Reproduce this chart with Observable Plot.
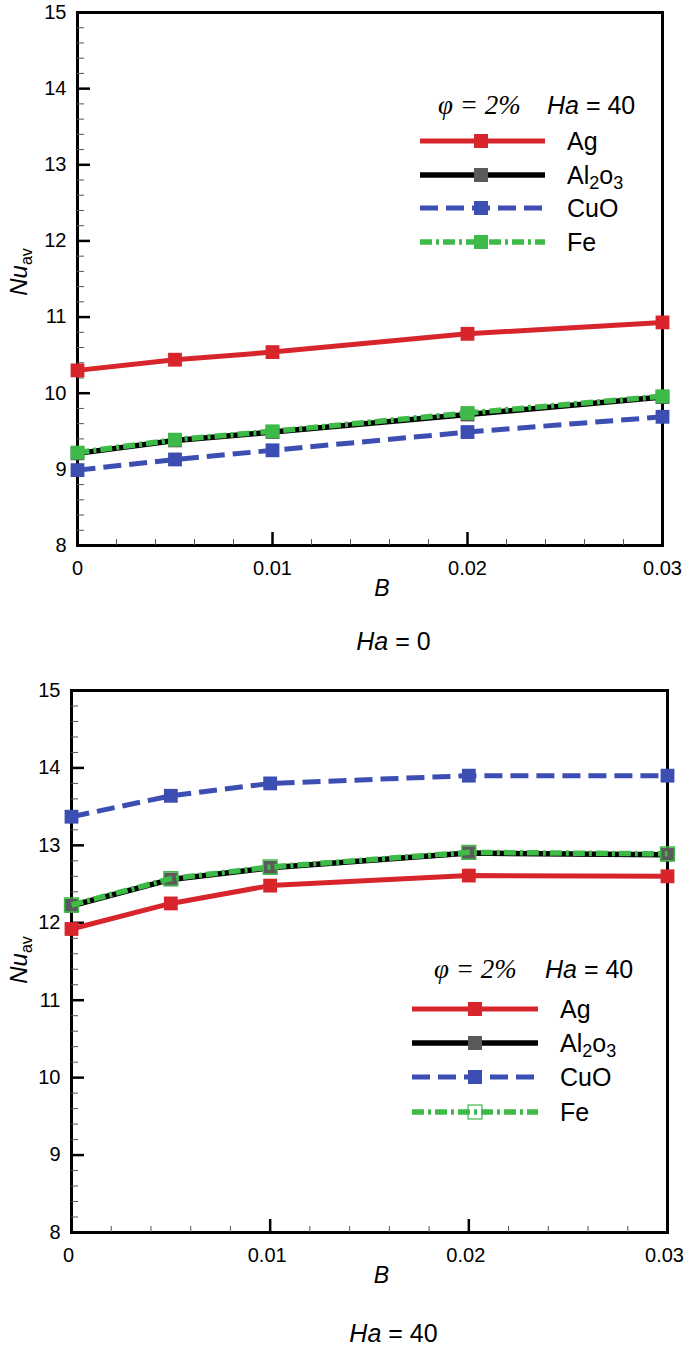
<!DOCTYPE html>
<html><head><meta charset="utf-8">
<script src="https://cdn.jsdelivr.net/npm/d3@7"></script>
<script src="https://cdn.jsdelivr.net/npm/@observablehq/plot@0.6"></script>
<style>
html,body{margin:0;padding:0;background:#fff;width:685px;height:1348px;overflow:hidden}
.cap{width:685px;box-sizing:border-box;padding-left:102px;text-align:center;font-family:"Liberation Sans",Arial,sans-serif;font-size:25px;color:#000}
.cap i{font-style:italic}
svg{display:block}
</style></head><body>
<div id="panelTop"></div>
<div class="cap" style="height:42px;line-height:42px"><i>Ha</i> = 0</div>
<div id="panelBot"></div>
<div class="cap" style="height:56px;padding-top:26px;line-height:30px"><i>Ha</i> = 40</div>
<script>
// ---- data ----
const B = [0, 0.005, 0.01, 0.02, 0.03];
const materials = ["Ag", "Al2O3", "CuO", "Fe"];

// Ha = 0
const Ag_Ha0    = [10.30, 10.44, 10.54, 10.78, 10.93];
const Al2O3_Ha0 = [9.21, 9.38, 9.49, 9.72, 9.95];
const CuO_Ha0   = [8.99, 9.13, 9.25, 9.49, 9.69];
const Fe_Ha0    = [9.22, 9.39, 9.50, 9.74, 9.96];

// Ha = 40
const Ag_Ha40    = [11.92, 12.25, 12.48, 12.61, 12.60];
const Al2O3_Ha40 = [12.22, 12.56, 12.71, 12.90, 12.88];
const CuO_Ha40   = [13.37, 13.64, 13.80, 13.90, 13.90];
const Fe_Ha40    = [12.23, 12.57, 12.72, 12.91, 12.89];

const xTicks = [0, 0.01, 0.02, 0.03];
const xTickLabels = ["0", "0.01", "0.02", "0.03"];
const yTicks = [8, 9, 10, 11, 12, 13, 14, 15];
const yTickLabels = ["8", "9", "10", "11", "12", "13", "14", "15"];

// ---- styles ----
const FONT = '"Liberation Sans", Arial, sans-serif';
const styles = {
  Ag:    {stroke: "#d7252b", dash: null, marker: "#d7252b", width: 5},
  Al2O3: {stroke: "#000000", dash: null, marker: "#5a5a5a", width: 5.5},
  CuO:   {stroke: "#3d4eb3", dash: "18,8", marker: "#3d4eb3", width: 5},
  Fe:    {stroke: "#3dba47", dash: "12,4,3,4", marker: "#3dba47", width: 5.5}
};

const xMinor = d3.range(0, 0.0301, 0.002).filter(v => xTicks.every(t => Math.abs(t - v) > 1e-9));
const yMinor = d3.range(8, 15.01, 0.2).filter(v => yTicks.every(t => Math.abs(t - v) > 1e-9));

function makePanel(series, cfg) {
  const rows = name => B.map((b, i) => ({B: b, Nu: series[name][i], name}));
  const marks = [
    Plot.frame({stroke: "black", strokeWidth: 3}),
    Plot.axisX(xMinor, {tickSize: -6, fill: "none", stroke: "#555", strokeWidth: 1, label: null}),
    Plot.axisY(yMinor, {tickSize: -7, fill: "none", stroke: "#555", strokeWidth: 1, label: null}),
    Plot.axisX(xTicks, {tickSize: -13, strokeWidth: 2.5, fill: "none", label: null}),
    Plot.axisX(xTicks, {tickSize: 0, tickPadding: 15, fontSize: 20, dx: cfg.xdx,
      tickFormat: d => xTickLabels[xTicks.indexOf(d)], label: null}),
    Plot.axisY(yTicks, {tickSize: -13, strokeWidth: 2.5, tickPadding: 24, fontSize: 20,
      tickFormat: d => yTickLabels[yTicks.indexOf(d)], label: null}),
    Plot.text(["B"], {text: d => d, frameAnchor: "bottom", dy: 50, dx: 12, fontStyle: "italic", fontSize: 23})
  ];
  for (const name of materials) {
    const s = styles[name];
    marks.push(Plot.line(rows(name), {x: "B", y: "Nu", stroke: s.stroke, strokeWidth: s.width,
      strokeDasharray: s.dash, strokeLinecap: "butt"}));
    const hollow = cfg.hollowFe && name === "Fe";
    marks.push(Plot.dot(rows(name), {x: "B", y: "Nu", symbol: "square", r: 7.8,
      fill: hollow ? "none" : s.marker, stroke: hollow ? s.marker : "none", strokeWidth: 1.5}));
  }
  const svg = Plot.plot({
    width: 685, height: cfg.height,
    marginTop: cfg.mt, marginBottom: cfg.mb, marginLeft: cfg.ml, marginRight: cfg.mr,
    x: {domain: [0, 0.03]}, y: {domain: [8, 15]},
    style: {background: "white", color: "black", fontFamily: FONT, fontSize: "20px"},
    marks
  });
  const g = d3.select(svg);
  // y axis title Nu_av
  const t = g.append("text").attr("transform", `translate(27,${cfg.ylabelY}) rotate(-90)`)
    .attr("text-anchor", "middle").attr("font-size", 24).attr("fill", "black").attr("font-family", FONT);
  t.append("tspan").attr("font-style", "italic").text("Nu");
  t.append("tspan").attr("font-size", 16).attr("dy", 5).text("av");
  // legend
  const L = cfg.legend;
  const lg = g.append("g").attr("font-family", FONT).attr("fill", "black").attr("text-anchor", "start");
  lg.append("text").attr("x", L.phiX).attr("y", L.headY).attr("font-family", '"Liberation Serif", "Times New Roman", serif')
    .attr("font-style", "italic").attr("font-size", 27).text("φ = 2%");
  const ha = lg.append("text").attr("x", L.haX).attr("y", L.headY).attr("font-size", 25);
  ha.append("tspan").attr("font-style", "italic").text("Ha");
  ha.append("tspan").text(" = 40");
  materials.forEach((name, i) => {
    const s = styles[name];
    const y = L.rows[i];
    lg.append("line").attr("x1", L.x1).attr("x2", L.x2).attr("y1", y).attr("y2", y)
      .attr("stroke", s.stroke).attr("stroke-width", s.width).attr("stroke-dasharray", s.dash);
    const hollow = cfg.hollowFe && name === "Fe";
    lg.append("rect").attr("x", L.mx - 7).attr("y", y - 7).attr("width", 14).attr("height", 14)
      .attr("fill", hollow ? "none" : s.marker).attr("stroke", hollow ? s.marker : "none").attr("stroke-width", 1.2);
    const tx = lg.append("text").attr("x", L.tx).attr("y", y + 9).attr("font-size", 25);
    if (name === "Al2O3") {
      tx.append("tspan").text("Al");
      tx.append("tspan").attr("font-size", 18).attr("dy", 5).text("2");
      tx.append("tspan").attr("dy", -5).text("o");
      tx.append("tspan").attr("font-size", 18).attr("dy", 5).text("3");
    } else {
      tx.text(name);
    }
  });
  return svg;
}

const topSvg = makePanel({Ag: Ag_Ha0, Al2O3: Al2O3_Ha0, CuO: CuO_Ha0, Fe: Fe_Ha0}, {
  height: 620, mt: 12, mb: 75, ml: 77, mr: 23, ylabelY: 272, hollowFe: false, xdx: 0,
  legend: {phiX: 438, haX: 547, headY: 114, x1: 420, x2: 545, mx: 481, tx: 567, rows: [141, 175, 208, 242]}
});
document.getElementById("panelTop").appendChild(topSvg);

const botSvg = makePanel({Ag: Ag_Ha40, Al2O3: Al2O3_Ha40, CuO: CuO_Ha40, Fe: Fe_Ha40}, {
  height: 630, mt: 28, mb: 60, ml: 71, mr: 18, ylabelY: 298, hollowFe: true, xdx: -3,
  legend: {phiX: 434, haX: 545, headY: 316, x1: 412, x2: 538, mx: 475, tx: 560, rows: [347, 381, 415, 450]}
});
document.getElementById("panelBot").appendChild(botSvg);
</script>
</body></html>
